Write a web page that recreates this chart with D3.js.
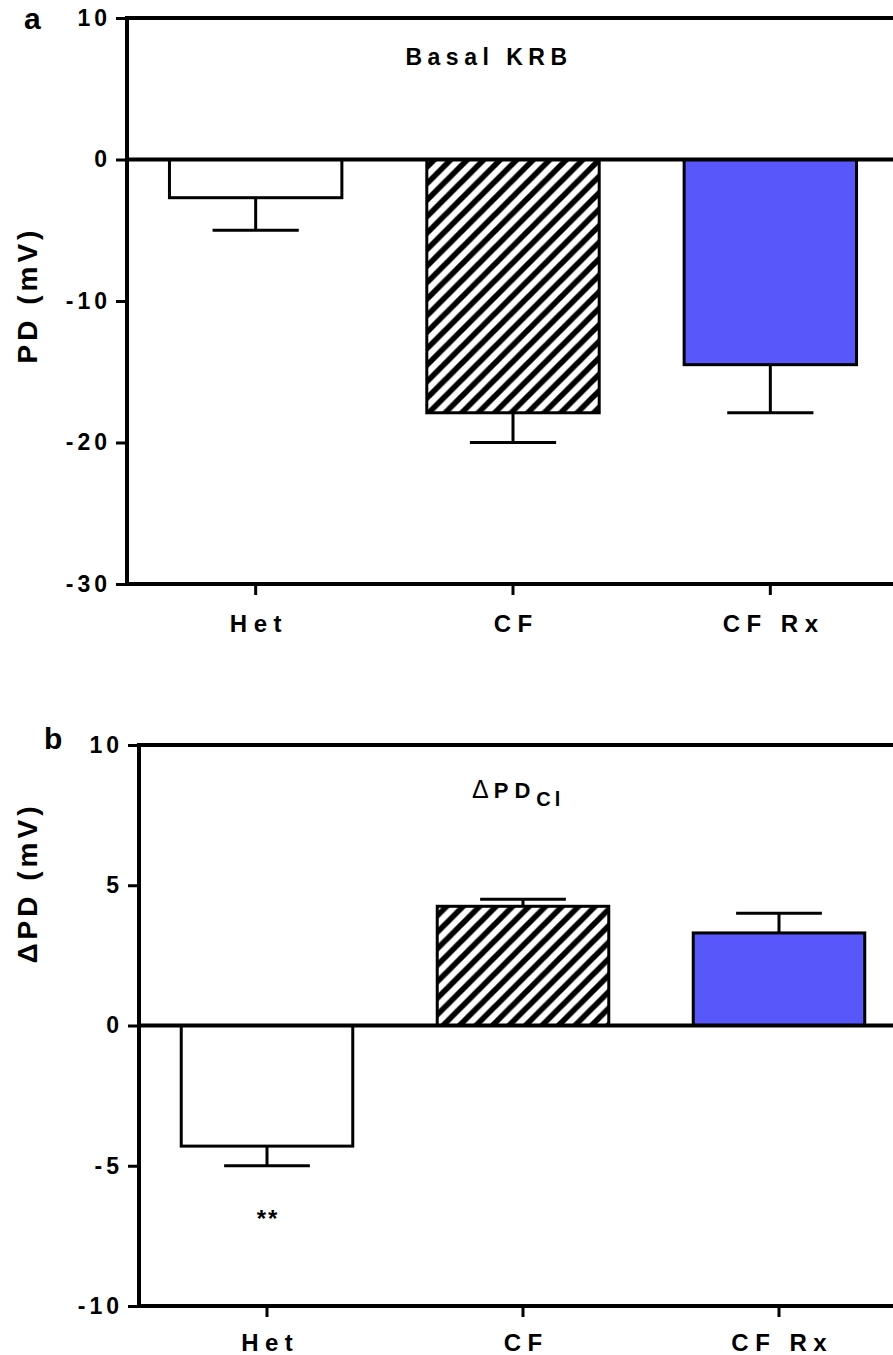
<!DOCTYPE html>
<html>
<head>
<meta charset="utf-8">
<script src="https://cdn.jsdelivr.net/npm/d3@7"></script>
<style>
  html, body { margin: 0; padding: 0; background: #fff; }
  svg { display: block; }
  text { font-family: "Liberation Sans", Arial, sans-serif; font-weight: bold; fill: #000; }
</style>
</head>
<body>
<svg id="fig" width="893" height="1355"></svg>
<script>
// Groups along the x axis
const groups = ["Het", "CF", "CF Rx"];
const fills = ["#ffffff", "url(#hatch)", "#5757fa"];

// Panel a: basal potential difference in KRB (mV), mean and SEM
const basalMean = [-2.7, -17.9, -14.5];
const basalSem  = [2.3, 2.1, 3.4];
const basalTicks = [10, 0, -10, -20, -30];

// Panel b: chloride-free response, delta PD (mV), mean and SEM
const deltaMean = [-4.3, 4.25, 3.3];
const deltaSem  = [0.7, 0.25, 0.7];
const deltaTicks = [10, 5, 0, -5, -10];

const svg = d3.select("#fig");

// diagonal hatch for the CF bars
const defs = svg.append("defs");
const P = 16.5;
const pat = defs.append("pattern")
  .attr("id", "hatch").attr("patternUnits", "userSpaceOnUse")
  .attr("width", P).attr("height", P);
pat.append("rect").attr("width", P).attr("height", P).attr("fill", "#fff");
pat.append("path")
  .attr("d", `M${-P/2},${P/2} L${P/2},${-P/2} M0,${P} L${P},0 M${P/2},${P*1.5} L${P*1.5},${P/2}`)
  .attr("stroke", "#000").attr("stroke-width", 5.6);

function panel(opts) {
  const g = svg.append("g");
  const x = d3.scaleBand().domain(groups)
    .range([opts.left, opts.right]).paddingInner(0.33).paddingOuter(0.165);
  const y = d3.scaleLinear().domain(opts.domain).range([opts.bottom, opts.top]);
  const cap = x.bandwidth() / 2;

  // bars
  g.selectAll("rect.bar").data(groups).join("rect")
    .attr("class", "bar")
    .attr("x", d => x(d))
    .attr("width", x.bandwidth())
    .attr("y", (d, i) => y(Math.max(0, opts.mean[i])))
    .attr("height", (d, i) => Math.abs(y(opts.mean[i]) - y(0)))
    .attr("fill", (d, i) => fills[i])
    .attr("stroke", "#000").attr("stroke-width", 3);

  // one-sided error bars
  const tip = i => y(opts.mean[i] + Math.sign(opts.mean[i]) * opts.sem[i]);
  const cx = d => x(d) + x.bandwidth() / 2;
  const err = g.selectAll("g.err").data(groups).join("g").attr("class", "err")
    .attr("stroke", "#000").attr("stroke-width", 3);
  err.append("line")
    .attr("x1", cx).attr("x2", cx)
    .attr("y1", (d, i) => y(opts.mean[i]))
    .attr("y2", (d, i) => tip(i));
  err.append("line")
    .attr("x1", d => cx(d) - cap / 2)
    .attr("x2", d => cx(d) + cap / 2)
    .attr("y1", (d, i) => tip(i))
    .attr("y2", (d, i) => tip(i));

  // frame: top edge, zero line, bottom axis
  [opts.domain[1], 0, opts.domain[0]].forEach(v => {
    g.append("line").attr("x1", opts.left).attr("x2", 893 + 20)
      .attr("y1", y(v)).attr("y2", y(v))
      .attr("stroke", "#000").attr("stroke-width", 4);
  });

  // y axis
  const ya = d3.axisLeft(y).tickValues(opts.ticks).tickSize(11).tickPadding(9)
    .tickFormat(d => String(d));
  const yg = g.append("g").attr("transform", `translate(${opts.left},0)`).call(ya);
  yg.select(".domain").attr("stroke-width", 4).attr("d", `M0,${opts.bottom + 2}V${opts.top - 2}`);
  yg.selectAll(".tick line").attr("stroke-width", 3);
  yg.selectAll(".tick text")
    .style("font-size", "23px").style("font-weight", "bold")
    .style("font-family", "'Liberation Sans', Arial, sans-serif")
    .style("letter-spacing", "4px").attr("dx", "4px");

  // x axis
  const xa = d3.axisBottom(x).tickSize(11).tickPadding(0);
  const xg = g.append("g").attr("transform", `translate(0,${opts.bottom})`).call(xa);
  xg.select(".domain").remove();
  xg.selectAll(".tick line").attr("stroke-width", 3);
  xg.selectAll(".tick text").attr("y", opts.labelDy).attr("dy", 0)
    .style("font-size", "24px").style("font-weight", "bold")
    .style("font-family", "'Liberation Sans', Arial, sans-serif")
    .style("letter-spacing", "6.5px").attr("dx", "3.25px");

  // y title
  svg.append("text")
    .attr("transform", `translate(${opts.ytX},${opts.ytY}) rotate(-90)`)
    .attr("text-anchor", "middle").attr("dx", "2px")
    .style("font-size", "28px").style("letter-spacing", "4px")
    .text(opts.ytitle);

  // panel letter
  svg.append("text").attr("x", opts.letterX).attr("y", opts.letterY)
    .style("font-size", "30px").text(opts.letter);

  return { g, x, y };
}

panel({
  left: 127, right: 899, top: 18, bottom: 584,
  domain: [-30, 10], ticks: basalTicks,
  mean: basalMean, sem: basalSem,
  labelDy: 48, ytitle: "PD (mV)", ytX: 37, ytY: 297,
  letter: "a", letterX: 24, letterY: 29
});

const pb = panel({
  left: 139, right: 907, top: 745, bottom: 1306,
  domain: [-10, 10], ticks: deltaTicks,
  mean: deltaMean, sem: deltaSem,
  labelDy: 45, ytitle: "ΔPD (mV)", ytX: 37, ytY: 885,
  letter: "b", letterX: 44, letterY: 749
});

// panel titles
svg.append("text").attr("x", 489).attr("y", 65).attr("text-anchor", "middle")
  .style("font-size", "23px").style("letter-spacing", "5.5px").text("Basal KRB");

const t2 = svg.append("text").attr("x", 472).attr("y", 798)
  .style("font-size", "22px").style("letter-spacing", "6px");
t2.append("tspan").style("font-weight", "normal").style("font-size", "25px")
  .style("letter-spacing", "5px").text("Δ");
t2.append("tspan").text("PD");
t2.append("tspan").attr("dy", 8).style("font-size", "20px").style("letter-spacing", "4px").text("Cl");

// significance mark under the Het bar
svg.append("text")
  .attr("x", pb.x("Het") + pb.x.bandwidth() / 2).attr("y", 1227)
  .attr("text-anchor", "middle").attr("dx", "1px")
  .style("font-size", "24px").style("letter-spacing", "2px").text("**");
</script>
</body>
</html>
